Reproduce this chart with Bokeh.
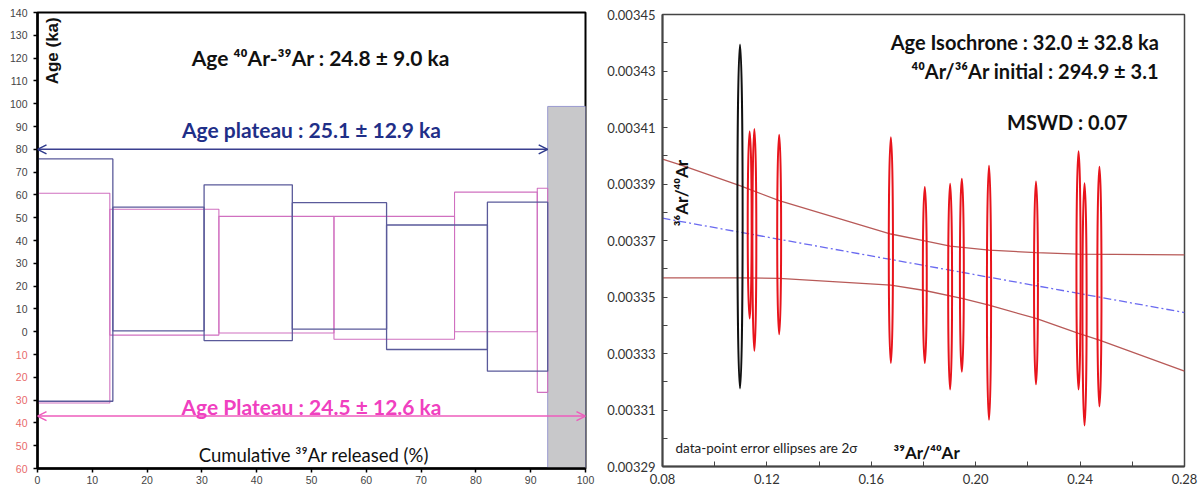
from bokeh.plotting import figure
from bokeh.layouts import row
from bokeh.models import (FixedTicker, Label, Arrow, OpenHead, PrintfTickFormatter, Range1d)
from bokeh.core.properties import value
from bokeh.embed import file_html
from bokeh.resources import INLINE

# ---------------- Left panel: age spectrum (cumulative 39Ar %, age ka) ----------------
blue_left = [0.0, 13.75, 30.4, 46.5, 63.7, 82.1]
blue_right = [13.75, 30.4, 46.5, 63.7, 82.1, 93.1]
blue_low = [-30.5, 0.4, -3.9, 1.1, -7.8, -17.3]
blue_high = [75.8, 54.6, 64.4, 56.6, 46.8, 56.8]

pink_left = [0.0, 13.2, 33.1, 54.1, 76.1, 91.2]
pink_right = [13.2, 33.1, 54.1, 76.1, 91.2, 93.1]
pink_low = [-31.3, -1.5, -0.6, -3.3, 0.0, -26.6]
pink_high = [60.7, 53.7, 50.6, 50.6, 61.2, 62.9]

grey_left, grey_right, grey_low, grey_high = [93.1], [100.0], [-60.0], [98.8]

plateau_blue = {"x0": 0.0, "x1": 93.1, "y": 80.0}
plateau_pink = {"x0": 0.0, "x1": 100.0, "y": -37.0}

left_y_ticks = list(range(-60, 150, 10))
left_x_ticks = list(range(0, 110, 10))
pos_ticks = [v for v in left_y_ticks if v >= 0]
neg_ticks = [v for v in left_y_ticks if v < 0]
pos_labels = [str(v) for v in pos_ticks]
neg_labels = [str(abs(v)) for v in neg_ticks]

# ---------------- Right panel: isochron (39Ar/40Ar vs 36Ar/40Ar) ----------------
ell_x = [0.1097, 0.1134, 0.1152, 0.1247, 0.1675, 0.1805, 0.1902, 0.1947,
         0.2051, 0.2231, 0.2394, 0.2417, 0.2474]
ell_y = [0.0033785, 0.0033755, 0.0033702, 0.0033721, 0.0033666, 0.0033578, 0.0033537,
         0.0033577, 0.0033515, 0.0033550, 0.0033594, 0.0033474, 0.0033537]
ell_h = [0.0001217, 0.0000662, 0.0000785, 0.0000706, 0.0000799, 0.0000626, 0.0000731,
         0.0000683, 0.0000899, 0.0000721, 0.0000843, 0.0000858, 0.0000849]
ell_w = [0.0020, 0.0015, 0.0015, 0.0015, 0.0016, 0.0015, 0.0015,
         0.0015, 0.0016, 0.0015, 0.0016, 0.0016, 0.0016]
ell_color = ["#111111"] + ["#e8141c"] * 12

reg_x = [0.08, 0.28]
reg_y = [0.0033779, 0.0033445]

up_x = [0.08, 0.0869, 0.1099, 0.1247, 0.1675, 0.1805, 0.1902, 0.2051, 0.2231, 0.2394, 0.28]
up_y = [0.0033988, 0.0033968, 0.0033893, 0.0033841, 0.0033723, 0.0033699, 0.0033680,
        0.0033666, 0.0033657, 0.0033652, 0.0033649]
lo_x = [0.08, 0.1099, 0.1247, 0.1675, 0.1805, 0.1947, 0.2051, 0.2231, 0.2394, 0.2474, 0.28]
lo_y = [0.0033568, 0.0033568, 0.0033566, 0.0033542, 0.0033523, 0.0033495, 0.0033471,
        0.0033424, 0.0033371, 0.0033347, 0.0033238]

right_x_ticks = [0.08, 0.12, 0.16, 0.20, 0.24, 0.28]
right_x_minor = [0.10, 0.14, 0.18, 0.22, 0.26]
right_y_ticks = [0.00329, 0.00331, 0.00333, 0.00335, 0.00337, 0.00339, 0.00341, 0.00343, 0.00345]
right_y_minor = [0.00330, 0.00332, 0.00334, 0.00336, 0.00338, 0.00340, 0.00342, 0.00344]

TXT = "Lato"
AX = "Liberation Sans"
H = 490
TOP_L, BOT_L = 12, 22
Y0, Y1 = -60, 140

age_range = Range1d(Y0, Y1)

# ======================= LEFT TICK-LABEL STRIP (black >= 0, red below 0) =======================
# Same vertical scale as the left plot; its frame reaches over the borders so the
# end labels are not clipped.
STRIP_BOT = 10
frame_px = H - TOP_L - BOT_L
pad_top = TOP_L * (Y1 - Y0) / frame_px
pad_bot = (BOT_L - STRIP_BOT) * (Y1 - Y0) / frame_px
strip_range = Range1d(Y0 - pad_bot, Y1 + pad_top)

pt = figure(width=30, height=H, x_range=Range1d(0, 1), y_range=strip_range, title=None,
            x_axis_location=None, y_axis_location=None,
            output_backend="svg", toolbar_location=None,
            min_border_left=0, min_border_right=0, min_border_top=0, min_border_bottom=STRIP_BOT)
pt.grid.visible = False
pt.outline_line_color = None
pt.text(x=[1] * len(pos_ticks), y=pos_ticks, text=pos_labels, x_offset=-3,
        text_align="right", text_baseline="middle", text_font=value(AX),
        text_font_size="10.5px", text_color="#444444")
pt.text(x=[1] * len(neg_ticks), y=neg_ticks, text=neg_labels, x_offset=-3,
        text_align="right", text_baseline="middle", text_font=value(AX),
        text_font_size="10.5px", text_color="#e86a6a")

# ======================= LEFT FIGURE =======================
pl = figure(width=574, height=H, x_range=Range1d(0, 100), y_range=age_range,
            output_backend="svg", toolbar_location=None,
            min_border_left=7, min_border_right=19, min_border_top=TOP_L, min_border_bottom=BOT_L)
pl.grid.visible = False
pl.outline_line_color = "black"
pl.outline_line_width = 2

pl.quad(left=grey_left, right=grey_right, bottom=grey_low, top=grey_high,
        fill_color="#c8c8ca", line_color="#9a9ad0", line_width=1)
pl.quad(left=pink_left, right=pink_right, bottom=pink_low, top=pink_high,
        fill_alpha=0, line_color="#d070c0", line_width=1.1)
pl.quad(left=blue_left, right=blue_right, bottom=blue_low, top=blue_high,
        fill_alpha=0, line_color="#5a5a9a", line_width=1.3)

pl.add_layout(Arrow(start=OpenHead(size=9, line_color="#2e3a8c", line_width=1.5),
                    end=OpenHead(size=9, line_color="#2e3a8c", line_width=1.5),
                    x_start=plateau_blue["x0"], x_end=plateau_blue["x1"],
                    y_start=plateau_blue["y"], y_end=plateau_blue["y"],
                    line_color="#3a3f8f", line_width=1.5))
pl.add_layout(Arrow(start=OpenHead(size=9, line_color="#ee5cbd", line_width=1.5),
                    end=OpenHead(size=9, line_color="#ee5cbd", line_width=1.5),
                    x_start=plateau_pink["x0"], x_end=plateau_pink["x1"],
                    y_start=plateau_pink["y"], y_end=plateau_pink["y"],
                    line_color="#ee5cbd", line_width=1.5))

for ax in pl.axis:
    ax.axis_line_color = "black"
    ax.axis_line_width = 2.5
    ax.major_tick_line_color = "black"
    ax.major_tick_line_width = 1.5
    ax.major_tick_in = 0
    ax.major_tick_out = 4
    ax.minor_tick_line_color = None
    ax.major_label_text_font = AX
    ax.major_label_text_font_size = "10.5px"
    ax.major_label_text_color = "#444444"
    ax.major_label_standoff = 3

pl.xaxis.ticker = FixedTicker(ticks=left_x_ticks)
pl.yaxis.ticker = FixedTicker(ticks=left_y_ticks)
pl.yaxis.major_label_overrides = {v: "" for v in left_y_ticks}
pl.yaxis.major_label_standoff = 0

pl.add_layout(Label(x=51.7, y=120.1, text="Age \u2074\u2070Ar-\u00b3\u2079Ar : 24.8 \u00b1 9.0 ka",
                    text_align="center", text_baseline="middle", text_font=TXT,
                    text_font_style="bold", text_font_size="21px", text_color="#111111"))
pl.add_layout(Label(x=50.0, y=88.5, text="Age plateau : 25.1 \u00b1 12.9 ka",
                    text_align="center", text_baseline="middle", text_font=TXT,
                    text_font_style="bold", text_font_size="21px", text_color="#1f2f88"))
pl.add_layout(Label(x=50.0, y=-33.0, text="Age Plateau : 24.5 \u00b1 12.6 ka",
                    text_align="center", text_baseline="middle", text_font=TXT,
                    text_font_style="bold", text_font_size="21px", text_color="#f040c0"))
pl.add_layout(Label(x=50.4, y=-54.2, text="Cumulative \u00b3\u2079Ar released (%)",
                    text_align="center", text_baseline="middle", text_font=TXT,
                    text_font_size="18.5px", text_color="#111111"))
pl.add_layout(Label(x=2.74, y=123.2, text="Age (ka)", angle=1.5708,
                    text_align="center", text_baseline="middle", text_font=AX,
                    text_font_style="bold", text_font_size="17px", text_color="#111111"))

# ======================= RIGHT FIGURE =======================
pr = figure(width=596, height=H, x_range=Range1d(0.08, 0.28), y_range=Range1d(0.00329, 0.00345),
            output_backend="svg", toolbar_location=None,
            min_border_left=57, min_border_right=16, min_border_top=14, min_border_bottom=24)
pr.grid.visible = False
pr.outline_line_color = "#444444"
pr.outline_line_width = 1.5

pr.line(up_x, up_y, line_color="#b85a58", line_width=1.3)
pr.line(lo_x, lo_y, line_color="#b85a58", line_width=1.3)
pr.line(reg_x, reg_y, line_color="#6a6af0", line_width=1.3, line_dash="8 3 2 3")
pr.ellipse(x=ell_x, y=ell_y, width=ell_w, height=ell_h, fill_alpha=0,
           line_color=ell_color, line_width=2)

for ax in pr.axis:
    ax.axis_line_color = "#444444"
    ax.axis_line_width = 2
    ax.major_tick_line_color = "#444444"
    ax.minor_tick_line_color = "#444444"
    ax.major_tick_in = 5
    ax.major_tick_out = 0
    ax.minor_tick_in = 5
    ax.minor_tick_out = 0
    ax.major_label_text_font = TXT
    ax.major_label_text_font_size = "13px"
    ax.major_label_text_color = "#333333"
    ax.major_label_standoff = 7

pr.xaxis.ticker = FixedTicker(ticks=right_x_ticks, minor_ticks=right_x_minor)
pr.xaxis.formatter = PrintfTickFormatter(format="%.2f")
pr.yaxis.ticker = FixedTicker(ticks=right_y_ticks, minor_ticks=right_y_minor)
pr.yaxis.formatter = PrintfTickFormatter(format="%.5f")

pr.add_layout(Label(x=0.2702, y=0.0034404, text="Age Isochrone : 32.0 \u00b1 32.8 ka",
                    text_align="right", text_baseline="middle", text_font=TXT,
                    text_font_style="bold", text_font_size="20px", text_color="#111111"))
pr.add_layout(Label(x=0.2702, y=0.0034301, text="\u2074\u2070Ar/\u00b3\u2076Ar initial : 294.9 \u00b1 3.1",
                    text_align="right", text_baseline="middle", text_font=TXT,
                    text_font_style="bold", text_font_size="20px", text_color="#111111"))
pr.add_layout(Label(x=0.2351, y=0.003412, text="MSWD : 0.07",
                    text_align="center", text_baseline="middle", text_font=TXT,
                    text_font_style="bold", text_font_size="20px", text_color="#111111"))
pr.add_layout(Label(x=0.085, y=0.0032967, text="data-point error ellipses are 2\u03c3",
                    text_align="left", text_baseline="middle", text_font=TXT,
                    text_font_size="13.5px", text_color="#222222"))
pr.add_layout(Label(x=0.1812, y=0.0032950, text="\u00b3\u2079Ar/\u2074\u2070Ar",
                    text_align="center", text_baseline="middle", text_font=TXT,
                    text_font_style="bold", text_font_size="17px", text_color="#111111"))
pr.add_layout(Label(x=0.0873, y=0.0033868, text="\u00b3\u2076Ar/\u2074\u2070Ar", angle=1.5708,
                    text_align="center", text_baseline="middle", text_font=TXT,
                    text_font_style="bold", text_font_size="17px", text_color="#111111"))

# nested rows so that each plot keeps its own frame geometry
layout = row(row(pt), row(pl), row(pr))
open("out.html", "w").write(file_html(layout, INLINE))
